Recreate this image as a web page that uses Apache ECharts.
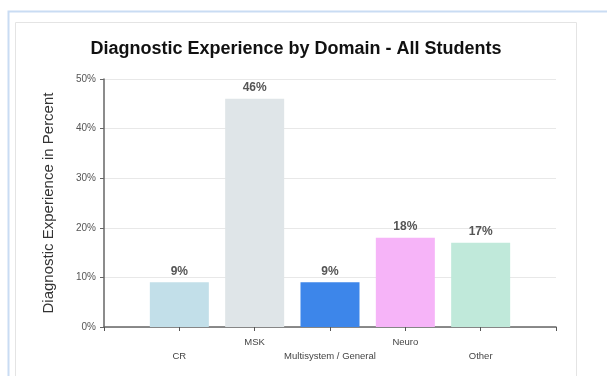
<!DOCTYPE html>
<html>
<head>
<meta charset="utf-8">
<script src="https://cdn.jsdelivr.net/npm/echarts@6/dist/echarts.min.js"></script>
<style>html,body{margin:0;padding:0;background:#fff}#c{width:607px;height:376px}</style>
</head>
<body>
<div id="c"></div>
<script>
const categories = ['', 'CR', 'MSK', 'Multisystem / General', 'Neuro', 'Other', ''];
const values = [null, 9, 46, 9, 18, 17, null];
const colors = [null, '#c2dfe9', '#dfe5e8', '#3d86ea', '#f6b4f8', '#c0e9da', null];
const yTicks = [0, 10, 20, 30, 40, 50];

const chart = echarts.init(document.getElementById('c'), null, {renderer: 'canvas'});
chart.setOption({
  animation: false,
  backgroundColor: '#fff',
  graphic: [
    {type: 'rect', shape: {x: 8.5, y: 11.5, width: 620, height: 400}, style: {fill: 'none', stroke: '#c9dcf3', lineWidth: 2}, z: -10},
    {type: 'rect', shape: {x: 15.5, y: 22.5, width: 561, height: 400}, style: {fill: '#fff', stroke: '#e4e4e4', lineWidth: 1}, z: -9}
  ],
  title: {
    text: 'Diagnostic Experience by Domain - All Students',
    left: 291, top: 35, textAlign: 'center',
    textStyle: {fontFamily: 'Liberation Sans, Arial', fontSize: 18, fontWeight: 'bold', color: '#111'}
  },
  grid: {left: 104, right: 51, top: 79, bottom: 49, containLabel: false},
  xAxis: {
    type: 'category',
    data: categories,
    boundaryGap: false,
    axisLine: {lineStyle: {color: '#666', width: 1.5}},
    axisTick: {show: true, length: 4, alignWithLabel: true, lineStyle: {color: '#555'}},
    axisLabel: {
      interval: 0, margin: 8, fontSize: 9.5, color: '#444', lineHeight: 14,
      fontFamily: 'Liberation Sans, Arial',
      formatter: function (v, i) { return (i % 2 === 1) ? '\n' + v : v; }
    },
    splitLine: {show: false}
  },
  yAxis: {
    type: 'value', min: yTicks[0], max: yTicks[yTicks.length - 1], interval: 10,
    name: 'Diagnostic Experience in Percent', nameLocation: 'middle', nameGap: 48,
    nameTextStyle: {fontFamily: 'Liberation Sans, Arial', fontSize: 15, color: '#333'},
    axisLine: {show: true, lineStyle: {color: '#666', width: 1.5}},
    axisTick: {show: true, length: 4, lineStyle: {color: '#666'}},
    axisLabel: {formatter: '{value}%', fontSize: 10, color: '#555', margin: 8, fontFamily: 'Liberation Sans, Arial'},
    splitLine: {lineStyle: {color: '#e8e8e8'}}
  },
  series: [{
    type: 'bar',
    barWidth: 59,
    data: values.map((v, i) => v === null ? null : {value: v, itemStyle: {color: colors[i]}}),
    label: {show: true, position: 'top', distance: 5, formatter: '{c}%', fontSize: 12, fontWeight: 'bold', color: '#555', fontFamily: 'Liberation Sans, Arial'}
  }]
});
</script>
</body>
</html>
